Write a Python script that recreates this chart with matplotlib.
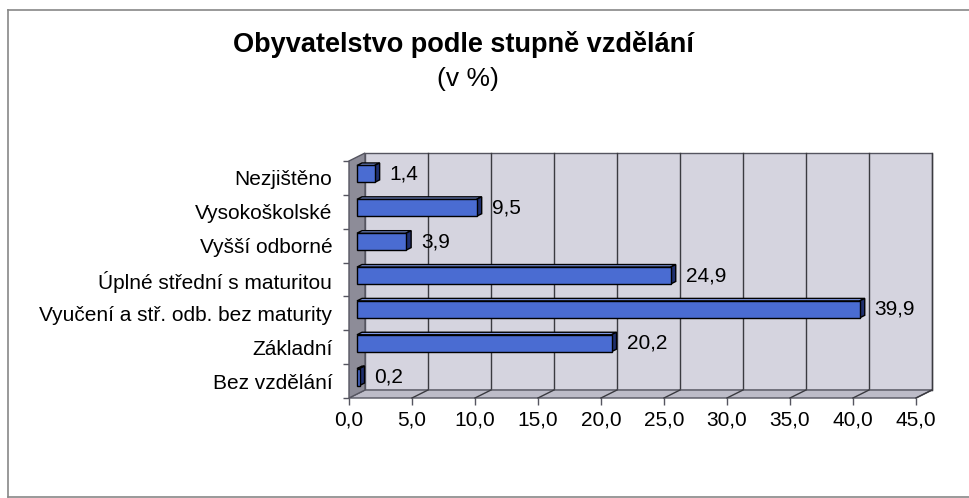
import matplotlib
matplotlib.use("Agg")
import matplotlib.pyplot as plt
from matplotlib.patches import Polygon
import numpy as np

categories = ["Bez vzdělání", "Základní", "Vyučení a stř. odb. bez maturity",
              "Úplné střední s maturitou", "Vyšší odborné", "Vysokoškolské", "Nezjištěno"]
values = [0.2, 20.2, 39.9, 24.9, 3.9, 9.5, 1.4]
value_labels = ["0,2", "20,2", "39,9", "24,9", "3,9", "9,5", "1,4"]
xticks = [0, 5, 10, 15, 20, 25, 30, 35, 40, 45]
xtick_labels = ["0,0", "5,0", "10,0", "15,0", "20,0", "25,0", "30,0", "35,0", "40,0", "45,0"]
title = "Obyvatelstvo podle stupně vzdělání"
subtitle = "(v %)"

plt.rcParams['font.family'] = ['Liberation Sans', 'DejaVu Sans']

W, H = 969, 498
fig = plt.figure(figsize=(W / 100, H / 100), dpi=100)
fig.patch.set_facecolor("white")

# front plane of the 3D box (pixels)
L, R, T, B = 349, 916, 161, 398
ax = fig.add_axes([L / W, (H - B) / H, (R - L) / W, (B - T) / H])
ax.set_xlim(0, 45)
n = len(categories)
ax.set_ylim(-0.5, n - 0.5)
ax.patch.set_alpha(0)
for s in ax.spines.values():
    s.set_visible(False)

DX, DY = 16, 8  # depth offset (pixels): right, up


def off(x, y, dx, dy):
    p = ax.transData.transform((x, y))
    return ax.transData.inverted().transform(p + np.array([dx, dy]))


x0, x1 = 0, 45
y0, y1 = -0.5, n - 0.5

wall_col = "#d5d4df"
floor_col = "#bdbcc8"
side_col = "#8d8c98"
edge = "#555560"

# back wall
bw = [off(x0, y0, DX, DY), off(x1, y0, DX, DY), off(x1, y1, DX, DY), off(x0, y1, DX, DY)]
ax.add_patch(Polygon(bw, closed=True, facecolor=wall_col, edgecolor=edge, lw=1.0, clip_on=False, zorder=1))
# floor
fl = [(x0, y0), (x1, y0), off(x1, y0, DX, DY), off(x0, y0, DX, DY)]
ax.add_patch(Polygon(fl, closed=True, facecolor=floor_col, edgecolor=edge, lw=1.0, clip_on=False, zorder=2))
# left wall
lw_ = [(x0, y0), (x0, y1), off(x0, y1, DX, DY), off(x0, y0, DX, DY)]
ax.add_patch(Polygon(lw_, closed=True, facecolor=side_col, edgecolor=edge, lw=1.0, clip_on=False, zorder=2))

# gridlines on back wall and floor
for xv in xticks[1:]:
    a = off(xv, y0, DX, DY)
    b = off(xv, y1, DX, DY)
    ax.plot([a[0], b[0]], [a[1], b[1]], color="#3a3a40", lw=1.0, clip_on=False, zorder=1.5)
    ax.plot([xv, a[0]], [y0, a[1]], color="#3a3a40", lw=1.0, clip_on=False, zorder=2.5)

# bars (3D)
h = 0.5
F = (8, 4)      # front face offset
Bk = (13, 6.5)  # back face offset
face = "#4a6cd2"
top_col = "#7f98e2"
right_col = "#1f2f6e"
for i, v in enumerate(values):
    yb, yt = i - h / 2, i + h / 2
    fr = [off(0, yb, *F), off(v, yb, *F), off(v, yt, *F), off(0, yt, *F)]
    tp = [off(0, yt, *F), off(v, yt, *F), off(v, yt, *Bk), off(0, yt, *Bk)]
    rt = [off(v, yb, *F), off(v, yb, *Bk), off(v, yt, *Bk), off(v, yt, *F)]
    ax.add_patch(Polygon(tp, closed=True, facecolor=top_col, edgecolor="black", lw=1.0, clip_on=False, zorder=5))
    ax.add_patch(Polygon(rt, closed=True, facecolor=right_col, edgecolor="black", lw=1.0, clip_on=False, zorder=5))
    ax.add_patch(Polygon(fr, closed=True, facecolor=face, edgecolor="black", lw=1.0, clip_on=False, zorder=6))
    ax.annotate(value_labels[i], xy=(v, i), xytext=(F[0] + 15, F[1]), textcoords="offset pixels",
                ha="left", va="center", fontsize=15, color="black", zorder=7)

ax.set_xticks(xticks)
ax.set_xticklabels(xtick_labels, fontsize=15)
ax.tick_params(axis="x", direction="out", length=5, width=1, color=edge, pad=4)
ax.set_yticks(range(n))
ax.set_yticklabels(categories, fontsize=15)
ax.tick_params(axis="y", which="major", length=0, pad=12)
ax.set_yticks(np.arange(-0.5, n, 1.0), minor=True)
ax.tick_params(axis="y", which="minor", direction="out", length=4, width=1, color=edge)

fig.text(463 / W, (H - 45) / H, title, ha="center", va="center", fontsize=19.5, fontweight="bold")
fig.text(468 / W, (H - 79) / H, subtitle, ha="center", va="center", fontsize=19)

# outer frame
fig.add_artist(plt.Line2D([8 / W, 1.0], [(H - 10) / H] * 2, color="#888888", lw=1.2, transform=fig.transFigure))
fig.add_artist(plt.Line2D([8 / W, 8 / W], [(H - 10) / H, 1 / H], color="#888888", lw=1.2, transform=fig.transFigure))
fig.add_artist(plt.Line2D([8 / W, 1.0], [1 / H, 1 / H], color="#888888", lw=1.2, transform=fig.transFigure))

fig.savefig("out.png", dpi=100)
